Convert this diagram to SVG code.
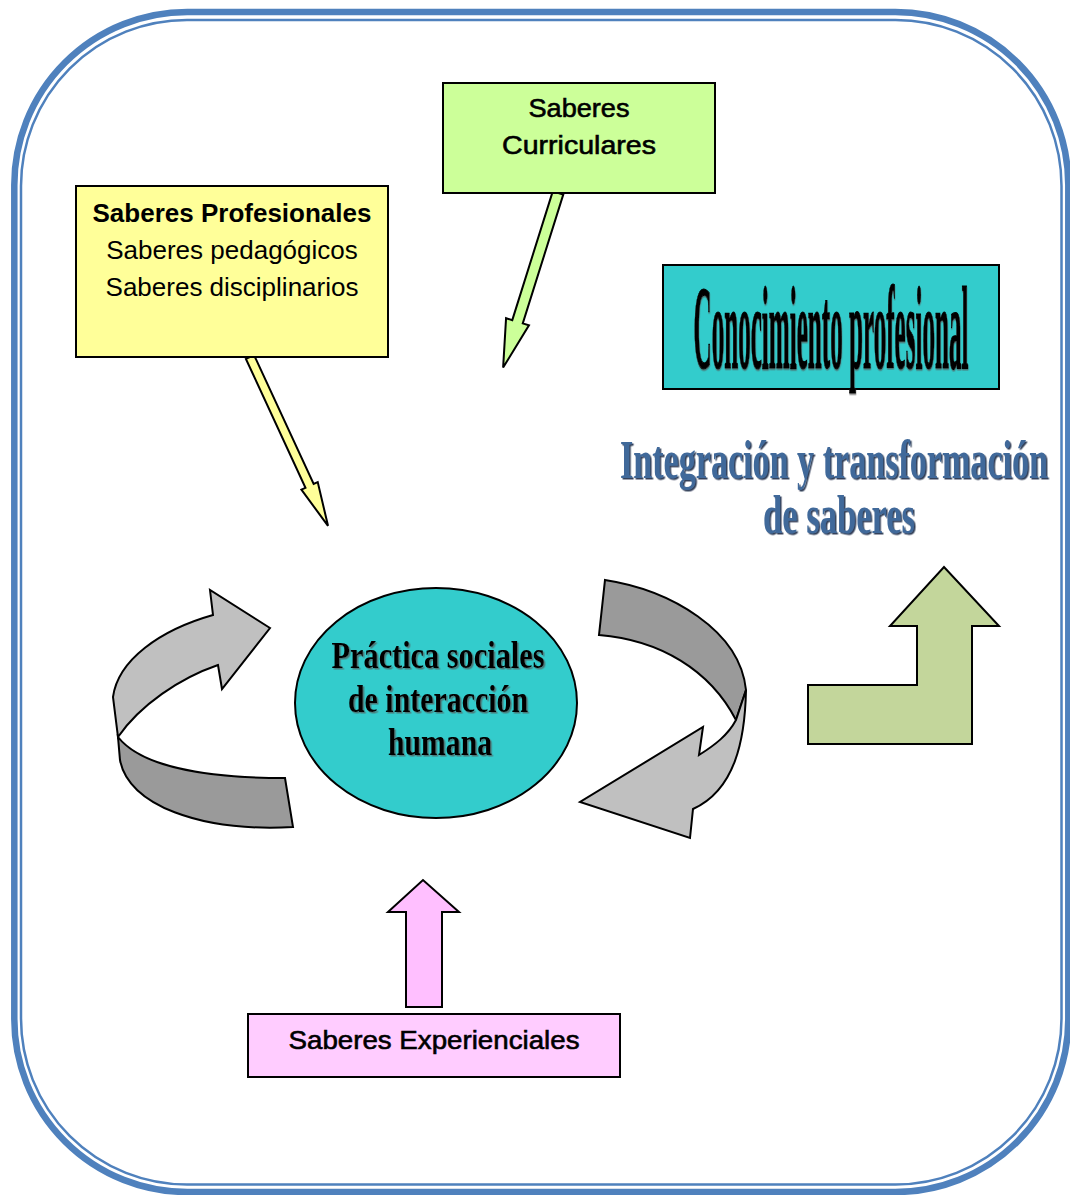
<svg xmlns="http://www.w3.org/2000/svg" width="1070" height="1195" viewBox="0 0 1070 1195">
  <style>
    .frame { fill: none; stroke: #4F81BD; }
    .box { stroke: #000; stroke-width: 2; }
    .shape { stroke: #000; stroke-width: 2; stroke-linejoin: miter; }
    .lbl { font-family: "Liberation Sans", Arial, sans-serif; font-size: 26px; fill: #000; text-anchor: middle; }
    .bold { font-weight: bold; }
    .medium { stroke: #000; stroke-width: 0.6; }
    .serif { font-family: "Liberation Serif", "Times New Roman", serif; font-weight: bold; text-anchor: middle; }
  </style>
  <defs>
    <filter id="shadow-grey" x="-5%" y="-20%" width="110%" height="140%">
      <feDropShadow dx="1.5" dy="1.5" stdDeviation="0.6" flood-color="#555" flood-opacity="0.7"/>
    </filter>
    <filter id="shadow-blue" x="-5%" y="-20%" width="110%" height="140%">
      <feDropShadow dx="1.5" dy="1.5" stdDeviation="0.4" flood-color="#1B2F4A" flood-opacity="0.9"/>
    </filter>
  </defs>

  <!-- rounded double frame -->
  <rect class="frame" x="14.3" y="12" width="1054" height="1180" rx="173" ry="173" stroke-width="6.5"/>
  <rect class="frame" x="21" y="20" width="1040.5" height="1164.5" rx="166" ry="166" stroke-width="2.5"/>

  <!-- connectors and cycle arrows -->
  <g id="connectors">
    <!-- Profesionales -> practice -->
    <polygon class="shape" fill="#FFFF99" stroke-width="1.6" transform="translate(250,357) rotate(65.2)"
      points="0,-4.5 142,-4.5 142,-9 186,0 142,9 142,4.5 0,4.5"/>
    <!-- Curriculares -> practice -->
    <polygon class="shape" fill="#CCFF99" stroke-width="1.6" transform="translate(558,193) rotate(107.45)"
      points="0,-5.5 135,-5.5 135,-12 183,0 135,12 135,5.5 0,5.5"/>
    <!-- Experienciales -> practice -->
    <polygon class="shape" fill="#FFBFFF" points="406,1007 406,912 388,912 423,880 459,912 442,912 442,1007"/>
    <!-- bent arrow towards conocimiento -->
    <polygon class="shape" fill="#C3D69B" points="808,685 917,685 917,626 890,626 944,567 999,626 972,626 972,744 808,744"/>

    <!-- left cycle arrow -->
    <path class="shape" fill="#9A9A9A" d="M118,737 C140,765 200,778 285,778 L293,827 C200,832 128,805 120,760 Z"/>
    <path class="shape" fill="#C0C0C0" d="M270,628 L210,590 L213,615 C160,630 118,660 113,697 L118,737 C140,705 180,678 218,665 L222,689 Z"/>

    <!-- right cycle arrow -->
    <path class="shape" fill="#9A9A9A" d="M605,580 C670,590 740,630 746,690 L736,720 C710,670 660,640 599,635 Z"/>
    <path class="shape" fill="#C0C0C0" d="M736,720 L746,690 C745,740 735,790 693,809 L690,838 L580,802 L703,727 L699,755 C715,745 728,735 736,720 Z"/>
  </g>

  <!-- Saberes Profesionales -->
  <g id="saberes-profesionales">
    <rect class="box" x="76" y="186" width="312" height="171" fill="#FFFF99"/>
    <text class="lbl bold" x="232" y="222">Saberes Profesionales</text>
    <text class="lbl" x="232" y="259">Saberes pedagógicos</text>
    <text class="lbl" x="232" y="296">Saberes disciplinarios</text>
  </g>

  <!-- Saberes Curriculares -->
  <g id="saberes-curriculares">
    <rect class="box" x="443" y="83" width="272" height="110" fill="#CCFF99"/>
    <text class="lbl medium" x="579" y="117" textLength="101" lengthAdjust="spacingAndGlyphs">Saberes</text>
    <text class="lbl medium" x="579" y="154" textLength="154" lengthAdjust="spacingAndGlyphs">Curriculares</text>
  </g>

  <!-- Conocimiento profesional: tall, heavily condensed heading -->
  <g id="conocimiento-profesional">
    <rect class="box" x="663" y="265" width="336" height="124" fill="#33CCCC"/>
    <text class="serif" transform="translate(831,368) scale(0.21,1)" x="0" y="0" font-size="119" fill="#000" stroke="#000" stroke-width="1.2" filter="url(#shadow-grey)" textLength="1309.5" lengthAdjust="spacingAndGlyphs">Conocimiento profesional</text>
  </g>

  <!-- Integración y transformación de saberes -->
  <g id="integracion" filter="url(#shadow-blue)">
    <text class="serif" transform="translate(834,478) scale(0.63,1)" x="0" y="0" font-size="54" fill="#41699A" textLength="679.4" lengthAdjust="spacingAndGlyphs">Integración y transformación</text>
    <text class="serif" transform="translate(839,533) scale(0.63,1)" x="0" y="0" font-size="54" fill="#41699A" textLength="241.3" lengthAdjust="spacingAndGlyphs">de saberes</text>
  </g>

  <!-- Práctica sociales de interacción humana -->
  <g id="practica-sociales">
    <ellipse cx="436" cy="703" rx="141" ry="115" fill="#33CCCC" stroke="#000" stroke-width="2"/>
    <g fill="#000" filter="url(#shadow-grey)">
      <text class="serif" x="438" y="668" font-size="38" textLength="213" lengthAdjust="spacingAndGlyphs">Práctica sociales</text>
      <text class="serif" x="438" y="712" font-size="38" textLength="180" lengthAdjust="spacingAndGlyphs">de interacción</text>
      <text class="serif" x="440" y="755" font-size="38" textLength="104" lengthAdjust="spacingAndGlyphs">humana</text>
    </g>
  </g>

  <!-- Saberes Experienciales -->
  <g id="saberes-experienciales">
    <rect class="box" x="248" y="1014" width="372" height="63" fill="#FFCCFF"/>
    <text class="lbl medium" x="434" y="1049" textLength="291" lengthAdjust="spacingAndGlyphs">Saberes Experienciales</text>
  </g>
</svg>
